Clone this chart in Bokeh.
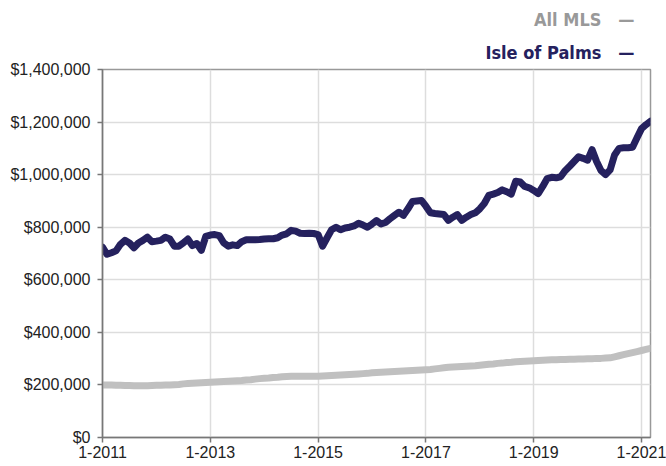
from bokeh.plotting import figure
from bokeh.models import Title, FixedTicker, NumeralTickFormatter, Range1d
from bokeh.embed import file_html
from bokeh.resources import INLINE

# Monthly median sales price, 1-2011 .. 3-2021 (in $1,000)
isle_of_palms = [
    724, 697, 703, 710, 735, 750, 740, 722, 740, 750, 762, 745,      # 2011
    747, 750, 762, 755, 728, 728, 740, 755, 730, 738, 712, 765,      # 2012
    770, 772, 768, 740, 728, 733, 730, 745, 752, 752, 752, 753,      # 2013
    755, 756, 756, 760, 770, 775, 788, 785, 777, 776, 777, 776,      # 2014
    772, 728, 760, 790, 800, 790, 797, 800, 805, 815, 808, 800,      # 2015
    812, 825, 812, 818, 832, 845, 857, 845, 870, 898, 900, 902,      # 2016
    880, 855, 852, 850, 848, 826, 838, 848, 826, 838, 848, 855,      # 2017
    870, 890, 921, 926, 932, 942, 935, 926, 975, 972, 955, 950,      # 2018
    940, 928, 955, 985, 990, 988, 992, 1015, 1032, 1050, 1068, 1062, # 2019
    1055, 1095, 1050, 1015, 1000, 1018, 1075, 1100, 1102, 1102, 1104, 1140,  # 2020
    1175, 1190, 1203,                                                # 2021
]
all_mls = [
    200, 200, 200, 199, 199, 198, 198, 197, 197, 197, 197, 198,      # 2011
    199, 199, 200, 200, 201, 202, 204, 205, 206, 207, 208, 209,      # 2012
    210, 211, 212, 213, 214, 215, 216, 217, 219, 220, 222, 224,      # 2013
    225, 226, 228, 229, 231, 232, 233, 233, 233, 233, 233, 233,      # 2014
    233, 234, 235, 236, 237, 238, 239, 240, 241, 242, 243, 244,      # 2015
    246, 247, 248, 249, 250, 251, 252, 253, 254, 255, 256, 257,      # 2016
    258, 259, 261, 263, 265, 267, 268, 269, 270, 271, 272, 273,      # 2017
    275, 277, 279, 280, 282, 283, 285, 286, 288, 289, 290, 291,      # 2018
    292, 293, 294, 295, 296, 296, 297, 297, 298, 298, 299, 299,      # 2019
    300, 300, 301, 301, 302, 303, 307, 311, 315, 319, 323, 327,      # 2020
    331, 335, 339,                                                   # 2021
]
tick_months = [0, 24, 48, 72, 96, 120]
tick_labels = ["1-2011", "1-2013", "1-2015", "1-2017", "1-2019", "1-2021"]
y_ticks = [0, 200000, 400000, 600000, 800000, 1000000, 1200000, 1400000]
legend_names = ["All MLS", "Isle of Palms"]

months = list(range(len(isle_of_palms)))
iop = [v * 1000 for v in isle_of_palms]
mls = [v * 1000 for v in all_mls]

NAVY = "#25215e"
GRAY = "#c0c0c0"
W, H = 666, 466
LEFT, RIGHT, TOP, BOTTOM = 102, 16, 69, 29

p = figure(width=W, height=H, output_backend="svg", toolbar_location=None,
           x_range=Range1d(0, months[-1]), y_range=Range1d(0, 1400000),
           min_border_left=LEFT, min_border_right=RIGHT, min_border_top=TOP,
           min_border_bottom=BOTTOM)

p.line(months, mls, line_color=GRAY, line_width=7, line_join="round", line_cap="round")
p.line(months, iop, line_color=NAVY, line_width=7, line_join="round", line_cap="round")

p.xaxis.ticker = FixedTicker(ticks=tick_months)
p.xaxis.major_label_overrides = {m: l for m, l in zip(tick_months, tick_labels)}
p.yaxis.ticker = FixedTicker(ticks=y_ticks)
p.yaxis.formatter = NumeralTickFormatter(format="$0,0")

for ax in (p.xaxis, p.yaxis):
    ax.axis_line_color = "#777777"
    ax.axis_line_width = 1.5
    ax.major_tick_line_color = "#777777"
    ax.major_tick_line_width = 1.5
    ax.major_tick_out = 5
    ax.major_tick_in = 0
    ax.minor_tick_line_color = None
    ax.major_label_text_font = "Liberation Sans"
    ax.major_label_text_font_size = "16px"
    ax.major_label_text_color = "#222222"
p.yaxis.major_label_standoff = 7
p.xaxis.major_label_standoff = 3

p.xgrid.grid_line_color = "#dddddd"
p.ygrid.grid_line_color = "#dddddd"
p.xgrid.grid_line_width = 1.5
p.ygrid.grid_line_width = 1.5
p.outline_line_color = "#999999"
p.outline_line_width = 1.5
p.background_fill_color = "white"
p.border_fill_color = "white"

# legend rows as titles above the frame (nearest row added first)
for text, color, standoff in zip(reversed(legend_names), [NAVY, "#999999"], [14, 6]):
    p.add_layout(Title(text=text + "\u00a0\u00a0\u00a0\u2014", text_color=color,
                       text_font="DejaVu Sans Condensed, Roboto, sans-serif",
                       text_font_style="bold",
                       text_font_size="18px", align="right", offset=16,
                       standoff=standoff), "above")

open("out.html", "w").write(file_html(p, INLINE))
